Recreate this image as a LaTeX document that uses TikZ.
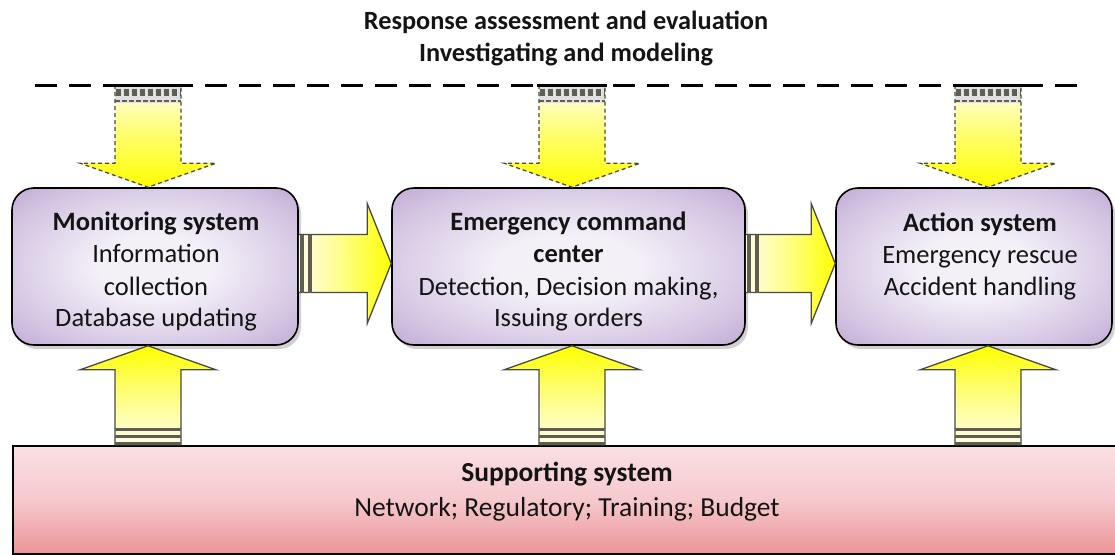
\documentclass[tikz,border=0pt]{standalone}
\usepackage{fontspec}
\setmainfont{Carlito}
\usetikzlibrary{calc,shadows}
\definecolor{boxin}{HTML}{F4F0F8}
\definecolor{boxmid}{HTML}{D3C3E2}
\definecolor{boxout}{HTML}{A588BD}
\definecolor{yel}{HTML}{FFFF00}
\definecolor{yelpale}{HTML}{FFFDE8}
\definecolor{pinktop}{HTML}{FAE0E3}
\definecolor{pinkbot}{HTML}{EB9499}
\definecolor{stripe}{HTML}{5E5E52}
\definecolor{outl}{HTML}{4A4A44}
\definecolor{txt}{HTML}{141414}
\pgfdeclareradialshading{boxshade}{\pgfpoint{0bp}{0bp}}{color(0bp)=(boxin); color(10bp)=(boxin); color(28bp)=(boxmid); color(46bp)=(boxout); color(70bp)=(boxout)}

\newcommand{\DnArrow}[3]{%
  \coordinate (#3tip) at (#1 |- #2.north);
  \path[top color=yelpale, bottom color=yel, middle color=yel!55!yelpale]
    ($(#1)+(-33,0)$) -- ($(#3tip)+(-33,-24)$) -- ($(#3tip)+(-68,-24)$) -- (#3tip)
    -- ($(#3tip)+(68,-24)$) -- ($(#3tip)+(33,-24)$) -- ($(#1)+(33,0)$) -- cycle;
  \fill[black!12] ($(#1)+(-33,0)$) rectangle ($(#1)+(33,18)$);
  \draw[stripe, line width=7pt, dash pattern=on 5pt off 3pt] ($(#1)+(-32,7)$) -- ($(#1)+(33,7)$);
  \draw[stripe, line width=2.5pt, dash pattern=on 5pt off 2pt] ($(#1)+(-33,16)$) -- ($(#1)+(33,16)$);
  \draw[outl, line width=1.3pt, dash pattern=on 4pt off 3pt]
    ($(#1)+(-33,0)$) -- ($(#3tip)+(-33,-24)$) -- ($(#3tip)+(-68,-24)$) -- (#3tip)
    -- ($(#3tip)+(68,-24)$) -- ($(#3tip)+(33,-24)$) -- ($(#1)+(33,0)$);
  \draw[black, line width=3pt] ($(#1)+(-35,0)$) -- ($(#1)+(35,0)$);
}
\newcommand{\UpArrow}[3]{%
  \coordinate (#3tip) at (#1 |- #2.south);
  \path[bottom color=yelpale, top color=yel, middle color=yel!45!yelpale]
    ($(#1)+(-33,0)$) -- ($(#3tip)+(-33,24)$) -- ($(#3tip)+(-68,24)$) -- (#3tip)
    -- ($(#3tip)+(68,24)$) -- ($(#3tip)+(33,24)$) -- ($(#1)+(33,0)$) -- cycle;
  \draw[outl, line width=1.3pt]
    ($(#1)+(-33,0)$) -- ($(#3tip)+(-33,24)$) -- ($(#3tip)+(-68,24)$) -- (#3tip)
    -- ($(#3tip)+(68,24)$) -- ($(#3tip)+(33,24)$) -- ($(#1)+(33,0)$);
  \foreach \yy in {-15.5,-9,-2}
    \draw[stripe, line width=3pt] ($(#1)+(-33,\yy)$) -- ($(#1)+(33,\yy)$);
}
\newcommand{\RtArrow}[3]{%
  \coordinate (#3s) at ($(#1.east)+(0,-3)$);
  \coordinate (#3t) at ($(#2.west)+(0,-3)$);
  \coordinate (#3h) at ($(#3t)+(-24,0)$);
  \path[left color=yelpale, right color=yel, middle color=yel!45!yelpale]
    ($(#3s)+(0,-29)$) -- ($(#3h)+(0,-29)$) -- ($(#3h)+(0,-60)$) -- (#3t)
    -- ($(#3h)+(0,60)$) -- ($(#3h)+(0,29)$) -- ($(#3s)+(0,29)$) -- cycle;
  \draw[outl, line width=1.3pt]
    ($(#3s)+(0,-29)$) -- ($(#3h)+(0,-29)$) -- ($(#3h)+(0,-60)$) -- (#3t)
    -- ($(#3h)+(0,60)$) -- ($(#3h)+(0,29)$) -- ($(#3s)+(0,29)$);
  \foreach \xx in {3,11}
    \draw[stripe, line width=3.5pt] ($(#3s)+(\xx,-29)$) -- ($(#3s)+(\xx,29)$);
}

\begin{document}
\begin{tikzpicture}[x=1pt,y=-1pt,
  every node/.style={font=\fontsize{26.5}{32}\selectfont, text=txt},
  sysbox/.style={draw=black, line width=1.6pt, rounded corners=22pt, shading=boxshade,
    drop shadow={opacity=0.3, shadow xshift=3pt, shadow yshift=-4pt, fill=black!60}},
  supbox/.style={draw=black, line width=1.6pt, top color=pinktop, bottom color=pinkbot, middle color=pinktop!70!pinkbot},
  boxtext/.style={align=center, anchor=north, inner sep=0pt}]
\useasboundingbox (0,0) rectangle (1115,554);
\clip (0,0) rectangle (1115,554);

% supporting system box
\node[supbox, minimum width=1112pt, minimum height=108pt, anchor=north west] (sup) at (12,445) {};

% system boxes
\node[sysbox, minimum width=286pt, minimum height=157pt] (box1) at (155,266.5) {};
\node[sysbox, minimum width=353pt, minimum height=157pt] (box2) at (568.5,266.5) {};
\node[sysbox, minimum width=276pt, minimum height=157pt] (box3) at (974,266.5) {};

% box texts
\node[boxtext] (txt1) at ($(box1.north)+(1,25)$) {\textbf{Monitoring system}\\Information\\collection\\Database updating};
\node[boxtext] (txt2) at ($(box2.north)+(0,25)$) {\textbf{Emergency command}\\\textbf{center}\\Detection, Decision making,\\Issuing orders};
\node[boxtext] (txt3) at ($(box3.north)+(6,25)$) {\textbf{Action system}\\Emergency rescue\\Accident handling};
\node[boxtext, font=\fontsize{27.5}{35}\selectfont] (txtsup) at (567,462) {\textbf{Supporting system}\\Network; Regulatory; Training; Budget};

% title
\node[boxtext, font=\fontsize{26.3}{32}\selectfont] (title) at (566,11) {\textbf{Response assessment and evaluation}\\\textbf{Investigating and modeling}};

% dashed line
\coordinate (dl) at (35,85);
\coordinate (dr) at (1085,85);
\draw[black, line width=3pt, dash pattern=on 22pt off 12pt] (dl) -- (dr);

% top arrows
\coordinate (d1) at (148,85);
\coordinate (d2) at (572,85);
\coordinate (d3) at (988,85);
\DnArrow{d1}{box1}{da}
\DnArrow{d2}{box2}{db}
\DnArrow{d3}{box3}{dc}

% bottom arrows
\coordinate (u1) at (d1 |- sup.north);
\coordinate (u2) at (d2 |- sup.north);
\coordinate (u3) at (d3 |- sup.north);
\UpArrow{u1}{box1}{ua}
\UpArrow{u2}{box2}{ub}
\UpArrow{u3}{box3}{uc}

% side arrows
\RtArrow{box1}{box2}{ra}
\RtArrow{box2}{box3}{rb}
\end{tikzpicture}
\end{document}
